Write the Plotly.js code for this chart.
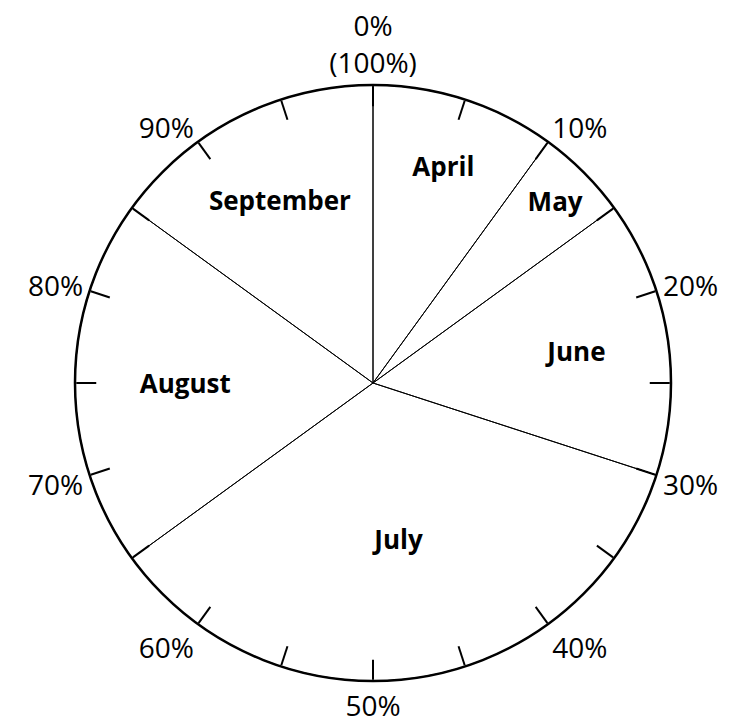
<!DOCTYPE html>
<html><head><meta charset="utf-8">
<script src="https://cdn.plot.ly/plotly-3.0.1.min.js"></script>
<style>html,body{margin:0;padding:0;background:#fff;}</style>
</head><body>
<div id="chart" style="width:742px;height:724px;"></div>
<script>
const months = ["April", "May", "June", "July", "August", "September"];
const shares = [10, 5, 15, 35, 20, 15];
const tickPercents = [0,5,10,15,20,25,30,35,40,45,50,55,60,65,70,75,80,85,90,95];
const tickLabels = ["0%<br>(100%)","","10%","","20%","","30%","","40%","","50%","","60%","","70%","","80%","","90%",""];

const dom = {x:[75/742, 671/742], y:[43/724, 639/724]};
const FONT = "Open Sans, Noto Sans, sans-serif";

const pie = {
  type: "pie",
  labels: months,
  values: shares,
  sort: false,
  direction: "clockwise",
  rotation: 0,
  textinfo: "label",
  textposition: "inside",
  insidetextorientation: "horizontal",
  textfont: {family: FONT, size: 26, color: "#000", weight: "bold"},
  marker: {colors: months.map(() => "rgba(0,0,0,0)"), line: {color: "#000", width: 1}},
  domain: dom,
  hoverinfo: "skip",
  showlegend: false
};

const ring = {
  type: "scatterpolar",
  r: [], theta: [],
  mode: "lines",
  showlegend: false,
  hoverinfo: "skip"
};

const layout = {
  width: 742, height: 724,
  margin: {l:0, r:0, t:0, b:0},
  paper_bgcolor: "#fff",
  showlegend: false,
  polar: {
    domain: dom,
    bgcolor: "rgba(0,0,0,0)",
    radialaxis: {visible: false, range: [0,1]},
    angularaxis: {
      rotation: 90,
      direction: "clockwise",
      tickmode: "array",
      tickvals: tickPercents.map(p => p * 3.6),
      ticktext: tickLabels,
      ticks: "inside",
      ticklen: 20,
      tickwidth: 2,
      tickcolor: "#000",
      showline: true,
      linecolor: "#000",
      linewidth: 2.5,
      showgrid: false,
      tickfont: {family: FONT, size: 28, color: "#000"}
    }
  }
};

Plotly.newPlot("chart", [ring, pie], layout, {staticPlot: true});
</script>
</body></html>
